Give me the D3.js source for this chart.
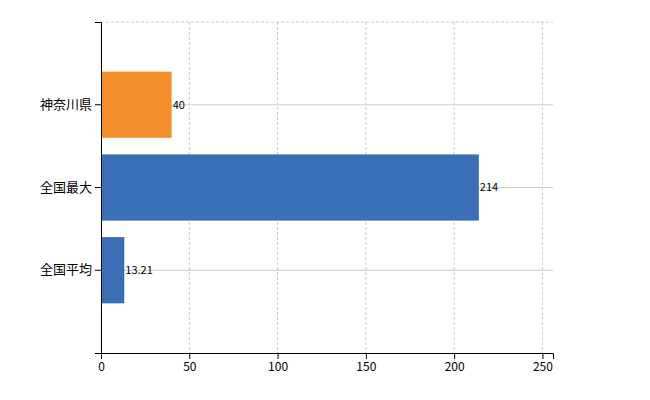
<!DOCTYPE html>
<html><head><meta charset="utf-8">
<script src="https://cdn.jsdelivr.net/npm/d3@7"></script>
<style>body{margin:0;background:#fff}text{font-family:"Noto Sans CJK JP","Noto Sans",sans-serif}</style>
</head><body><svg id="c" width="650" height="400"></svg>
<script>
const categories=["神奈川県","全国最大","全国平均"];
const values=[40,214,13.21];
const labels=["40","214","13.21"];
const colors=["#f28e2b","#3a6fb5","#3a6fb5"];
const xTicks=[0,50,100,150,200,250];
const svg=d3.select("#c");
const L=101,R=553,T=22,B=353;
const x=d3.scaleLinear().domain([0,256]).range([L,R]);
const y=d3.scaleBand().domain(categories).range([T,B]).paddingInner(0.2).paddingOuter(0.6);
const g=svg.append("g");
xTicks.slice(1).forEach(t=>g.append("line").attr("x1",x(t)).attr("x2",x(t)).attr("y1",T).attr("y2",B).attr("stroke","#ccc").attr("stroke-dasharray","3,2"));
g.append("line").attr("x1",L).attr("x2",R).attr("y1",T).attr("y2",T).attr("stroke","#ccc").attr("stroke-dasharray","3,2");
categories.forEach(c=>g.append("line").attr("x1",L).attr("x2",R).attr("y1",y(c)+y.bandwidth()/2).attr("y2",y(c)+y.bandwidth()/2).attr("stroke","#ccc"));
svg.selectAll("rect.b").data(values).join("rect").attr("x",x(0)).attr("y",(d,i)=>y(categories[i])).attr("width",d=>x(d)-x(0)).attr("height",y.bandwidth()).attr("fill",(d,i)=>colors[i]);
svg.selectAll("text.v").data(values).join("text").attr("x",d=>x(d)+1).attr("y",(d,i)=>y(categories[i])+y.bandwidth()/2).attr("dy","0.35em").attr("font-size",11).text((d,i)=>labels[i]);
svg.append("g").attr("transform",`translate(0,${B})`).call(d3.axisBottom(x).tickValues(xTicks).tickSize(6)).call(a=>a.selectAll("text").attr("font-size",12).attr("fill","#000"));
svg.append("g").attr("transform",`translate(${L},0)`).call(d3.axisLeft(y).tickSize(6)).call(a=>a.selectAll("text").attr("font-size",13).attr("fill","#000"));
svg.selectAll(".domain").attr("stroke","#000");
</script></body></html>
